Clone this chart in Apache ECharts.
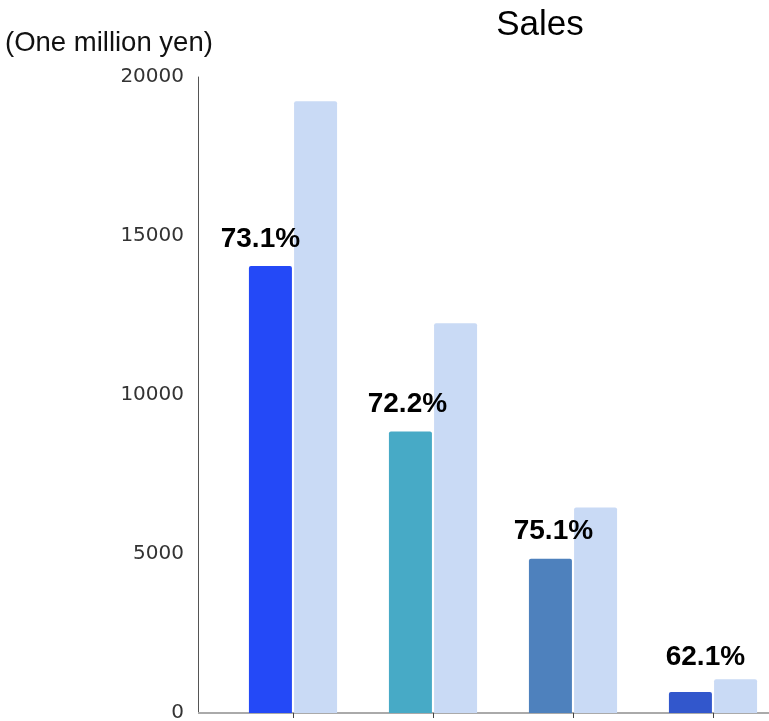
<!DOCTYPE html>
<html>
<head>
<meta charset="utf-8">
<script src="https://cdn.jsdelivr.net/npm/echarts@6/dist/echarts.min.js"></script>
<style>
  html, body { margin: 0; padding: 0; background: #fff; }
  #chart { width: 769px; height: 721px; }
</style>
</head>
<body>
<div id="chart"></div>
<script>
// Sales by segment (one million yen): actual vs. reference total
const categories = ['A', 'B', 'C', 'D'];
const actualSales = [14060, 8850, 4850, 660];
const totalSales = [19240, 12260, 6460, 1063];
const actualColors = ['#2449F7', '#47AAC6', '#4E81BD', '#3257CC'];
const totalColor = '#C9DAF5';
const yTicks = { min: 0, max: 20000, interval: 5000 };

const FONT = '"Liberation Sans", Arial, sans-serif';
const TICK_FONT = '"DejaVu Sans", Verdana, sans-serif';

// Share of the total, shown above each actual bar
const shareLabel = (i) => (actualSales[i] / totalSales[i] * 100).toFixed(1) + '%';
// Per-bar nudges for the share labels
const labelShift = [-10, -3, 3, 15];
const labelGap = [13, 13, 13, 21];

const chart = echarts.init(document.getElementById('chart'));

chart.setOption({
  animation: false,
  backgroundColor: '#fff',
  title: [
    {
      text: 'Sales',
      left: 535,
      textAlign: 'center',
      top: 3,
      textStyle: { fontFamily: FONT, fontSize: 35, fontWeight: 'normal', color: '#000' }
    },
    {
      text: '(One million yen)',
      left: 0,
      top: 24,
      textStyle: { fontFamily: FONT, fontSize: 27.5, fontWeight: 'normal', color: '#111' }
    }
  ],
  grid: { left: 223, width: 560, top: 77, bottom: 8, containLabel: false, outerBoundsMode: 'none' },
  xAxis: {
    type: 'category',
    data: categories,
    axisLine: { show: true, lineStyle: { color: '#aaaaaa', width: 2 } },
    axisTick: { show: true, alignWithLabel: true, length: 5, lineStyle: { color: '#444' } },
    axisLabel: { show: false },
    splitLine: { show: false }
  },
  yAxis: {
    type: 'value',
    min: yTicks.min,
    max: yTicks.max,
    interval: yTicks.interval,
    offset: 25,
    axisLine: { show: true, lineStyle: { color: '#555', width: 1 } },
    axisTick: { show: false },
    axisLabel: {
      fontFamily: TICK_FONT, fontSize: 20, color: '#333', margin: 14,
      formatter: (v) => String(v)
    },
    splitLine: { show: false }
  },
  series: [
    {
      name: 'Actual',
      type: 'bar',
      barWidth: 43,
      barGap: '5%',
      z: 3,
      data: actualSales.map((v, i) => ({
        value: v,
        itemStyle: { color: actualColors[i], borderRadius: [2, 2, 0, 0] },
        label: {
          show: true,
          position: 'top',
          distance: labelGap[i],
          offset: [labelShift[i], 0],
          formatter: () => shareLabel(i),
          fontFamily: FONT,
          fontSize: 28,
          fontWeight: 'bold',
          color: '#000'
        }
      }))
    },
    {
      name: 'Total',
      type: 'bar',
      barWidth: 43,
      z: 2,
      itemStyle: { color: totalColor, borderRadius: [2, 2, 0, 0] },
      data: totalSales
    }
  ]
});

// Extend the baseline leftward to meet the offset value axis
const yZero = chart.convertToPixel({ yAxisIndex: 0 }, 0);
chart.setOption({
  graphic: [{
    type: 'line',
    shape: { x1: 198, y1: yZero, x2: 224, y2: yZero },
    style: { stroke: '#aaaaaa', lineWidth: 2 },
    z: 10
  }]
});
</script>
</body>
</html>
